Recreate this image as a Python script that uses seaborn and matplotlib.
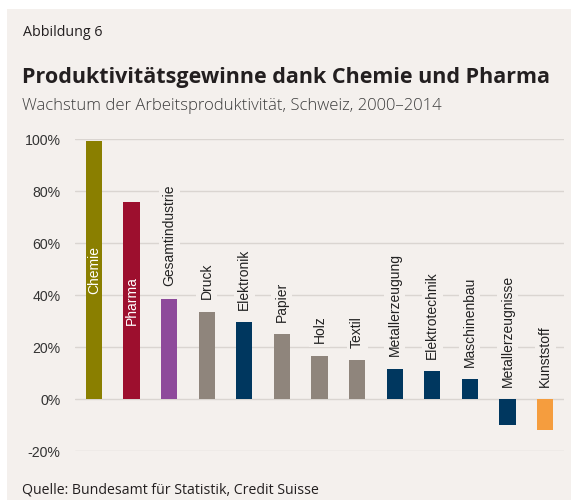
import matplotlib
matplotlib.use("Agg")
import matplotlib.pyplot as plt
import seaborn as sns
import pandas as pd
from matplotlib.patches import Rectangle

categories = ["Chemie", "Pharma", "Gesamtindustrie", "Druck", "Elektronik", "Papier",
              "Holz", "Textil", "Metallerzeugung", "Elektrotechnik", "Maschinenbau",
              "Metallerzeugnisse", "Kunststoff"]
values = [99.3, 75.9, 38.6, 33.6, 29.7, 25.1, 16.7, 15.1, 11.7, 10.8, 7.8, -9.8, -11.8]
bar_colors = ["#8a7f00", "#9d0f2e", "#8e4a9b", "#8f857c", "#00375f", "#8f857c",
              "#8f857c", "#8f857c", "#00375f", "#00375f", "#00375f", "#00375f", "#f59d3e"]
inside_labels = ["Chemie", "Pharma"]
yticks = [-20, 0, 20, 40, 60, 80, 100]

title_top = "Abbildung 6"
title = "Produktivitätsgewinne dank Chemie und Pharma"
subtitle = "Wachstum der Arbeitsproduktivität, Schweiz, 2000–2014"
source = "Quelle: Bundesamt für Statistik, Credit Suisse"

panel = "#f4f0ed"
grid_c = "#dad5d1"

df = pd.DataFrame({"cat": categories, "val": values})

sns.set_theme(style="white")
plt.rcParams["font.family"] = ["Liberation Sans", "DejaVu Sans"]

W, H = 571, 500
fig = plt.figure(figsize=(W / 100, H / 100), dpi=100, facecolor="white")
fig.patches.append(Rectangle((7 / W, 0), 1, (H - 9) / H, transform=fig.transFigure,
                             facecolor=panel, edgecolor="none", zorder=-10))

ax = fig.add_axes([75 / W, (H - 451.3) / H, (564 - 75) / W, (451.3 - 139.3) / H])
ax.set_zorder(2)
ax.set_facecolor("none")
sns.barplot(data=df, x="cat", y="val", hue="cat", palette=bar_colors, legend=False,
            width=0.43, saturation=1, ax=ax, zorder=3, edgecolor="none", linewidth=0)
ax.set_xlim(-0.5, len(categories) - 0.5)
ax.set_ylim(-20, 100)
ax.set_yticks(yticks)
ax.set_yticklabels([f"{t}%" for t in yticks], color="#333333", fontsize=10.2)
ax.set_xticks([])
ax.set_xlabel("")
ax.set_ylabel("")
ax.tick_params(axis="y", length=0, pad=10.5)
for s in ax.spines.values():
    s.set_visible(False)
ax.yaxis.grid(True, color=grid_c, linewidth=1.0, zorder=0)
ax.set_axisbelow(True)

for i, (c, v) in enumerate(zip(categories, values)):
    if c in inside_labels:
        ax.text(i, v / 2, c, rotation=90, ha="center", va="center", color="white",
                fontsize=10, zorder=5)
    else:
        base = max(v, 0)
        ax.annotate(c, (i, base), xytext=(0, 9), textcoords="offset points",
                    rotation=90, ha="center", va="bottom", color="#222222", fontsize=10,
                    zorder=5,
                    bbox=dict(boxstyle="square,pad=0.25", facecolor=panel, edgecolor="none"))

fig.text(23 / W, 1 - 36 / H, title_top, fontsize=10.3, color="#231f20",
         family=["Open Sans", "DejaVu Sans"], va="baseline")
fig.text(22 / W, 1 - 83 / H, title, fontsize=15.5, fontweight="bold", color="#231f20",
         family=["Open Sans", "DejaVu Sans"], va="baseline")
fig.text(22 / W, 1 - 110 / H, subtitle, fontsize=12, color="#3c3c3c",
         family=["Open Sans", "DejaVu Sans"], va="baseline", fontweight="light")
fig.text(22 / W, 1 - 493 / H, source, fontsize=10.2, color="#231f20",
         family=["Open Sans", "DejaVu Sans"], va="baseline")

fig.savefig("out.png", dpi=100, facecolor="white")
